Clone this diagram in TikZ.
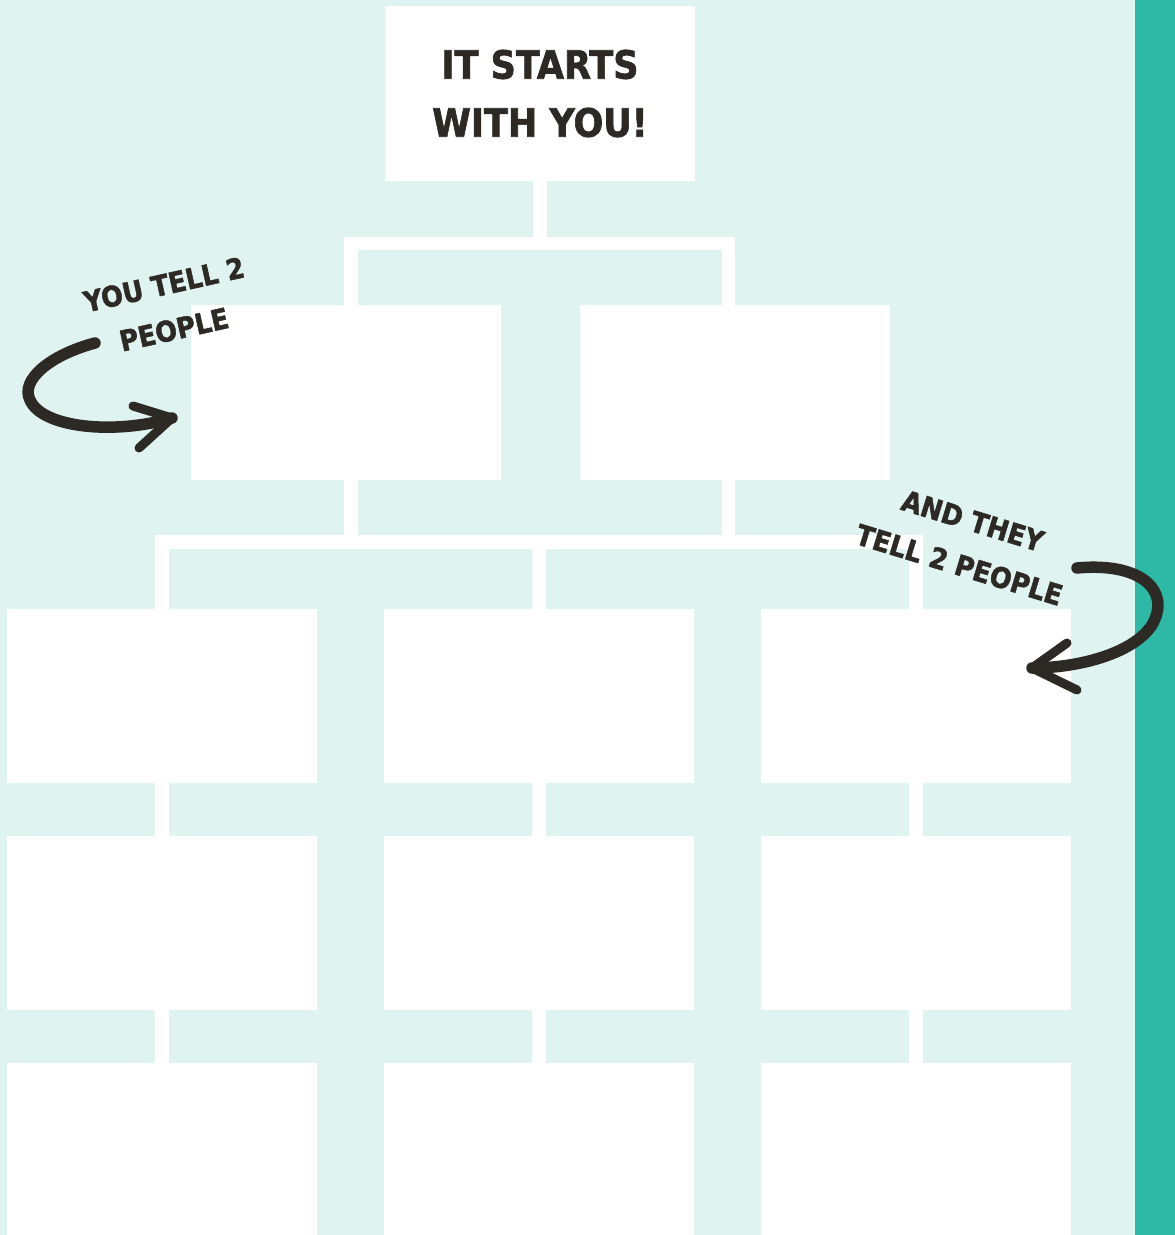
\documentclass[tikz,border=0pt]{standalone}
\usepackage{fontspec}
\usepackage{tikz}
\usetikzlibrary{calc}
\newfontfamily\brushfont{DejaVu Sans Condensed}[BoldFeatures={FakeBold=1.6}]
\definecolor{CLMint}{HTML}{DFF3F0}
\definecolor{CLTeal}{HTML}{2EB8A6}
\definecolor{CLInk}{HTML}{2D2925}
\tikzset{
  clcard/.style={fill=white, draw=none, inner sep=0pt,
    minimum width=310pt, minimum height=175pt},
  cltitle/.style={clcard, text=CLInk, align=center,
    font=\brushfont\bfseries\fontsize{39}{58}\selectfont},
  cllink/.style={draw=white, line width=13.5pt, line join=miter},
  cllabel/.style={text=CLInk, align=center, inner sep=0pt,
    font=\brushfont\bfseries\fontsize{28.5}{46}\selectfont},
  clstroke/.style={draw=CLInk, line width=11.5pt, line cap=round, line join=round},
  clbarb/.style={clstroke, line width=9pt}
}

\begin{document}
\begin{tikzpicture}[x=1pt, y=-1pt]
  \useasboundingbox (0,0) rectangle (1175,1235);
  \fill[CLMint] (0,0) rectangle (1135,1235);
  \fill[CLTeal] (1135,0) rectangle (1175,1235);

  \node[cltitle] (start) at (540,93.5) {IT STARTS\\WITH YOU!};

  \node[clcard] (tellA) at (345.5,392.5) {};
  \node[clcard] (tellB) at (735,392.5) {};

  \node[clcard, minimum height=174pt] (q1) at (162,696) {};
  \node[clcard, minimum height=174pt] (q2) at (539,696) {};
  \node[clcard, minimum height=174pt] (q3) at (916,696) {};

  \node[clcard, minimum height=174pt] (r1) at (162,923) {};
  \node[clcard, minimum height=174pt] (r2) at (539,923) {};
  \node[clcard, minimum height=174pt] (r3) at (916,923) {};

  \node[clcard] (s1) at (162,1150.5) {};
  \node[clcard] (s2) at (539,1150.5) {};
  \node[clcard] (s3) at (916,1150.5) {};

  \coordinate (busA) at (540,243.5);
  \coordinate (busB) at (539,542);

  \draw[cllink] (start.south) -- (busA);
  \draw[cllink] ($(tellA.north)+(5.5,0)$) |- (busA) -| ($(tellB.north)+(-6.5,0)$);
  \draw[cllink] ($(tellA.south)+(5.5,0)$) -- ++(0,62);
  \draw[cllink] ($(tellB.south)+(-6.5,0)$) -- ++(0,62);
  \draw[cllink] (q1.north) |- (busB) -| (q3.north);
  \draw[cllink] (busB) -- (q2.north);
  \draw[cllink] (q1) -- (r1);
  \draw[cllink] (q2) -- (r2);
  \draw[cllink] (q3) -- (r3);
  \draw[cllink] (r1) -- (s1);
  \draw[cllink] (r2) -- (s2);
  \draw[cllink] (r3) -- (s3);

  \node[cllabel, rotate=12.6] (tellnote) at (169,307) {YOU TELL 2\\PEOPLE};
  \node[cllabel, rotate=-17] (passnote) at (966,543) {AND THEY\\TELL 2 PEOPLE};

  \coordinate (tailA) at (95,343);
  \coordinate (tipA) at (172,418);
  \draw[clstroke] (tailA) .. controls (50,355) and (20,380) .. (30,400)
    .. controls (42,428) and (115,435) .. (tipA);
  \draw[clbarb] ($(tipA)+(-39,-12)$) -- (tipA) -- ($(tipA)+(-33,30)$);

  \coordinate (tailB) at (1077,568);
  \coordinate (tipB) at (1032,668);
  \draw[clstroke] (tailB) .. controls (1140,562) and (1172,590) .. (1152,625)
    .. controls (1132,655) and (1075,668) .. (tipB);
  \draw[clbarb] ($(tipB)+(35,-25)$) -- (tipB) -- ($(tipB)+(45,22)$);
\end{tikzpicture}
\end{document}
